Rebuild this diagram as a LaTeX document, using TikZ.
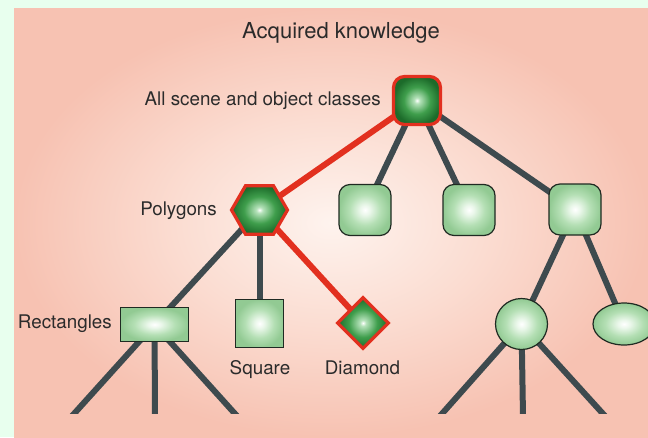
\documentclass[tikz,border=0pt]{standalone}
\usepackage{fontspec}
\setmainfont{TeX Gyre Heros}
\usetikzlibrary{shapes.geometric,backgrounds}
\definecolor{mint}{HTML}{E8FFEE}
\definecolor{pinkedge}{HTML}{F7C2B2}
\definecolor{pinkmid}{HTML}{FBDDD2}
\definecolor{pinkcenter}{HTML}{FEF3EE}
\definecolor{edgegrey}{HTML}{3E4A4E}
\definecolor{redline}{HTML}{E2301F}
\definecolor{txt}{HTML}{2B2B2B}
\definecolor{dgA}{HTML}{B5E2BA}
\definecolor{dgB}{HTML}{3F9E4C}
\definecolor{dgC}{HTML}{1C6B2A}
\definecolor{lgA}{HTML}{EAF7EA}
\definecolor{lgB}{HTML}{B4DFB4}
\definecolor{lgC}{HTML}{92CA93}
\definecolor{lightborder}{HTML}{1F2A22}
\pgfdeclareradialshading{darkglow}{\pgfpoint{0bp}{0bp}}{color(0bp)=(white); color(3bp)=(dgA); color(14bp)=(dgB); color(25bp)=(dgC); color(50bp)=(dgC)}
\pgfdeclareradialshading{lightglow}{\pgfpoint{0bp}{0bp}}{color(0bp)=(white); color(5bp)=(lgA); color(15bp)=(lgB); color(25bp)=(lgC); color(50bp)=(lgC)}
\pgfdeclareradialshading{pinkglow}{\pgfpoint{0bp}{0bp}}{color(0bp)=(pinkcenter); color(12bp)=(pinkmid); color(25bp)=(pinkedge); color(50bp)=(pinkedge)}
\pgfdeclarelayer{edgelayer}
\pgfsetlayers{background,edgelayer,main}
\begin{document}
\begin{tikzpicture}[x=1pt,y=-1pt,
  darknode/.style={shading=darkglow, draw=redline, line width=3.2pt, inner sep=0pt},
  lightnode/.style={shading=lightglow, draw=lightborder, line width=1.2pt, inner sep=0pt},
  link/.style={draw=edgegrey, line width=6pt},
  redlink/.style={draw=redline, line width=6pt},
  lbl/.style={text=txt, font=\fontsize{18.8}{20}\selectfont, inner sep=0pt},
  ttl/.style={text=txt, font=\fontsize{22}{24}\selectfont, inner sep=0pt}]
\useasboundingbox (0,0) rectangle (648,437);
\begin{pgfonlayer}{background}
  \fill[mint] (0,0) rectangle (648,437);
  \shade[shading=pinkglow] (14,8) rectangle (648,437);
\end{pgfonlayer}

% nodes
\node[darknode, rounded corners=11pt, minimum width=47pt, minimum height=48pt] (root) at (417,100.5) {};
\node[darknode, regular polygon, regular polygon sides=6, minimum size=56pt] (poly) at (259.5,210) {};
\node[lightnode, rounded corners=11pt, minimum width=52pt, minimum height=51pt] (c1) at (365,210) {};
\node[lightnode, rounded corners=11pt, minimum width=52pt, minimum height=51pt] (c2) at (469,210) {};
\node[lightnode, rounded corners=11pt, minimum width=52pt, minimum height=51pt] (c3) at (575,209.5) {};
\node[lightnode, minimum width=68pt, minimum height=34pt] (rect) at (154.5,324.5) {};
\node[lightnode, minimum width=48pt, minimum height=48pt] (sq) at (259.5,323.5) {};
\node[darknode, diamond, minimum width=52pt, minimum height=52pt] (diam) at (363,323) {};
\node[lightnode, ellipse, minimum width=52pt, minimum height=51pt] (circ) at (521.5,324) {};
\node[lightnode, ellipse, minimum width=62pt, minimum height=42pt] (ell) at (624,324) {};

% free ends of legs
\coordinate (r1) at (72,416);
\coordinate (r2) at (155,416);
\coordinate (r3) at (237,416);
\coordinate (k1) at (440,416);
\coordinate (k2) at (523,416);
\coordinate (k3) at (605,416);

% connectors
\begin{pgfonlayer}{edgelayer}
  \draw[link] (root.center) -- (c1.center);
  \draw[link] (root.center) -- (c2.center);
  \draw[link] (root.center) -- (c3.center);
  \draw[link] (c3.center) -- (circ.center);
  \draw[link] (c3.center) -- (ell.center);
  \draw[link] (poly.center) -- (rect.center);
  \draw[link] (poly.center) -- (sq.center);
  \draw[redlink] (root.center) -- (poly.center);
  \draw[redlink] (poly.center) -- (diam.center);
  \begin{scope}
    \clip (0,0) rectangle (648,413);
    \draw[link] (rect.center) -- (r1);
    \draw[link] (rect.center) -- (r2);
    \draw[link] (rect.center) -- (r3);
    \draw[link] (circ.center) -- (k1);
    \draw[link] (circ.center) -- (k2);
    \draw[link] (circ.center) -- (k3);
  \end{scope}
\end{pgfonlayer}

% labels
\node[ttl, anchor=base] (title) at (341,38) {Acquired knowledge};
\node[lbl, anchor=base east] (lAll) at (381,105.5) {All scene and object classes};
\node[lbl, anchor=base east] (lPoly) at (217,215) {Polygons};
\node[lbl, anchor=base east] (lRect) at (112,328) {Rectangles};
\node[lbl, anchor=base] (lSq) at (260,374) {Square};
\node[lbl, anchor=base] (lDiam) at (362.5,374) {Diamond};
\end{tikzpicture}
\end{document}
